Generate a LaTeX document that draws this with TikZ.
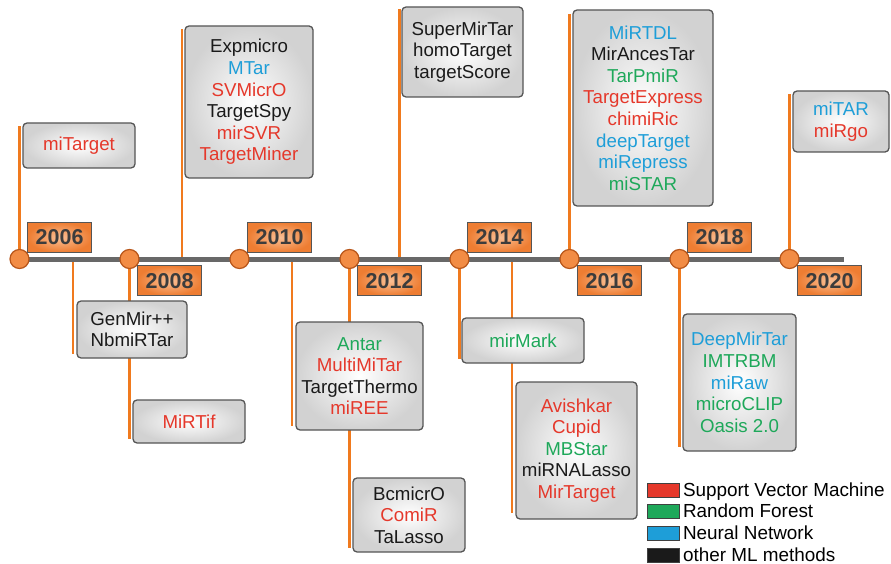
\documentclass[tikz,border=0pt]{standalone}
\usepackage{fontspec}
\setmainfont{Liberation Sans}
\usepackage{tikz}
\usetikzlibrary{positioning, calc, backgrounds}

\definecolor{svmred}{HTML}{E5382B}
\definecolor{rfgreen}{HTML}{1EA85A}
\definecolor{nnblue}{HTML}{1E9ED8}
\definecolor{otherblack}{HTML}{1A1A1A}
\definecolor{axisgray}{HTML}{686868}
\definecolor{lineorange}{HTML}{F07A1E}
\definecolor{dotorange}{HTML}{F28C45}
\definecolor{dotedge}{HTML}{B8561A}
\definecolor{yearlight}{HTML}{FAC096}
\definecolor{yeardark}{HTML}{EE7D32}
\definecolor{yeartext}{HTML}{3C3C3C}
\definecolor{boxedge}{HTML}{555555}
\definecolor{boxgray}{HTML}{D2D2D2}

\newcommand{\mlsvm}[1]{\textcolor{svmred}{#1}}
\newcommand{\mlrf}[1]{\textcolor{rfgreen}{#1}}
\newcommand{\mlnn}[1]{\textcolor{nnblue}{#1}}
\newcommand{\mlot}[1]{\textcolor{otherblack}{#1}}

\tikzset{
  % --- Zeitachse ---------------------------------------------
  tline/.style={draw=axisgray, line width=5pt},
  dot/.style={circle, draw=dotedge, line width=1.2pt, fill=dotorange,
    minimum size=19pt, inner sep=0pt},
  yearbox/.style={draw=boxedge, line width=1.2pt, inner color=yearlight,
    outer color=yeardark, minimum width=64pt, minimum height=30pt,
    inner sep=0pt, text=yeartext,
    font=\fontsize{21.5}{24}\selectfont\bfseries},
  vline/.style={draw=lineorange, line width=2.5pt},
  % --- Werkzeug-Kaesten --------------------------------------
  tbox/.style={draw=boxedge, line width=1.3pt, rounded corners=4pt,
    inner color=white, outer color=boxgray, align=center, inner sep=0pt,
    font=\fontsize{18.7}{21.6}\selectfont},
  % --- Legende -----------------------------------------------
  legsw/.style={draw=black!75, line width=0.8pt, minimum width=32pt,
    minimum height=14pt, inner sep=0pt},
  legtxt/.style={font=\fontsize{18.9}{21}\selectfont, inner sep=0pt,
    text height=14pt, text depth=2pt}
}

\begin{document}
\begin{tikzpicture}[x=1pt, y=-1pt]
  \useasboundingbox (0,0) rectangle (891,564);

  % --- Jahrespunkte ----------------------------------------------
  \node[dot] (C06) at (19.5,259) {};
  \node[dot] (C08) at (129.5,259) {};
  \node[dot] (C10) at (239.5,259) {};
  \node[dot] (C12) at (349.5,259) {};
  \node[dot] (C14) at (459.5,259) {};
  \node[dot] (C16) at (569.5,259) {};
  \node[dot] (C18) at (679.5,259) {};
  \node[dot] (C20) at (789.5,259) {};

  % --- Jahreszahlen (abwechselnd oben / unten) -------------------
  \node[yearbox, anchor=south west] (L06) at ([xshift=7.5pt, yshift=6pt]C06.center) {2006};
  \node[yearbox, anchor=north west] (L08) at ([xshift=7.5pt, yshift=-6pt]C08.center) {2008};
  \node[yearbox, anchor=south west] (L10) at ([xshift=7.5pt, yshift=6pt]C10.center) {2010};
  \node[yearbox, anchor=north west] (L12) at ([xshift=7.5pt, yshift=-6pt]C12.center) {2012};
  \node[yearbox, anchor=south west] (L14) at ([xshift=7.5pt, yshift=6pt]C14.center) {2014};
  \node[yearbox, anchor=north west] (L16) at ([xshift=7.5pt, yshift=-6pt]C16.center) {2016};
  \node[yearbox, anchor=south west] (L18) at ([xshift=7.5pt, yshift=6pt]C18.center) {2018};
  \node[yearbox, anchor=north west] (L20) at ([xshift=7.5pt, yshift=-6pt]C20.center) {2020};

  % --- Abzweigpunkte zwischen den Jahren --------------------------
  \coordinate (Y07) at (73,259);
  \coordinate (Y09) at (182,259);
  \coordinate (Y11) at (292,259);
  \coordinate (Y13) at (399.5,259);
  \coordinate (Y15) at (512,259);
  \coordinate (AXEND) at (844,259);

  % --- Kaesten oben ------------------------------------------------
  \node[tbox, minimum width=112pt, minimum height=45pt] (MITARGET) at (79,145.5)
    {\mlsvm{miTarget}};
  \node[tbox, minimum width=128pt, minimum height=152pt] (EXPMICRO) at (249,102)
    {\mlot{Expmicro}\\\mlnn{MTar}\\\mlsvm{SVMicrO}\\\mlot{TargetSpy}\\\mlsvm{mirSVR}\\\mlsvm{TargetMiner}};
  \node[tbox, minimum width=121pt, minimum height=90pt] (SUPERMIR) at (462.5,52)
    {\mlot{SuperMirTar}\\\mlot{homoTarget}\\\mlot{targetScore}};
  \node[tbox, minimum width=140pt, minimum height=196pt] (MIRTDL) at (643,108)
    {\mlnn{MiRTDL}\\\mlot{MirAncesTar}\\\mlrf{TarPmiR}\\\mlsvm{TargetExpress}\\\mlsvm{chimiRic}\\\mlnn{deepTarget}\\\mlnn{miRepress}\\\mlrf{miSTAR}};
  \node[tbox, minimum width=96pt, minimum height=61pt] (MITAR) at (841,121.5)
    {\mlnn{miTAR}\\\mlsvm{miRgo}};

  % --- Kaesten unten -----------------------------------------------
  \node[tbox, minimum width=110pt, minimum height=57pt] (GENMIR) at (132,329.5)
    {\mlot{GenMir++}\\\mlot{NbmiRTar}};
  \node[tbox, minimum width=112pt, minimum height=43pt] (MIRTIF) at (189,421.5)
    {\mlsvm{MiRTif}};
  \node[tbox, minimum width=127pt, minimum height=108pt] (ANTAR) at (359.5,376)
    {\mlrf{Antar}\\\mlsvm{MultiMiTar}\\\mlot{TargetThermo}\\\mlsvm{miREE}};
  \node[tbox, minimum width=112pt, minimum height=74pt] (BCMICRO) at (409,515)
    {\mlot{BcmicrO}\\\mlsvm{ComiR}\\\mlot{TaLasso}};
  \node[tbox, minimum width=122pt, minimum height=45pt] (MIRMARK) at (523,340.5)
    {\mlrf{mirMark}};
  \node[tbox, minimum width=121pt, minimum height=137pt] (AVISHKAR) at (576.5,450.5)
    {\mlsvm{Avishkar}\\\mlsvm{Cupid}\\\mlrf{MBStar}\\\mlot{miRNALasso}\\\mlsvm{MirTarget}};
  \node[tbox, minimum width=113pt, minimum height=137pt] (DEEPMIR) at (739.5,382.5)
    {\mlnn{DeepMirTar}\\\mlrf{IMTRBM}\\\mlnn{miRaw}\\\mlrf{microCLIP}\\\mlrf{Oasis 2.0}};

  % --- Legende -------------------------------------------------------
  \node[legsw, fill=svmred, anchor=west] (SW1) at (647,490) {};
  \node[legsw, fill=rfgreen, below=7pt of SW1] (SW2) {};
  \node[legsw, fill=nnblue, below=7pt of SW2] (SW3) {};
  \node[legsw, fill=otherblack, below=7pt of SW3] (SW4) {};
  \node[legtxt, right=3pt of SW1] (LT1) {Support Vector Machine};
  \node[legtxt, right=3pt of SW2] (LT2) {Random Forest};
  \node[legtxt, right=3pt of SW3] (LT3) {Neural Network};
  \node[legtxt, right=3pt of SW4] (LT4) {other ML methods};

  % --- Staebe und Achse (hinten) ---------------------------------------
  \begin{scope}[on background layer]
    \draw[vline] (C06.center) -- ($(C06 |- MITARGET.north)+(0,4)$);
    \draw[vline] (Y07) -- ($(Y07 |- GENMIR.south)+(0,-5)$);
    \draw[vline] (C08.center) -- ($(C08 |- MIRTIF.south)+(0,-5)$);
    \draw[vline] (Y09) -- ($(Y09 |- EXPMICRO.north)+(0,4)$);
    \draw[vline] (Y11) -- ($(Y11 |- ANTAR.south)+(0,-5)$);
    \draw[vline] (C12.center) -- ($(C12 |- BCMICRO.south)+(0,-5)$);
    \draw[vline] (Y13) -- ($(Y13 |- SUPERMIR.north)+(0,3)$);
    \draw[vline] (C14.center) -- ($(C14 |- MIRMARK.south)+(0,-5)$);
    \draw[vline] (Y15) -- ($(Y15 |- AVISHKAR.south)+(0,-7)$);
    \draw[vline] (C16.center) -- ($(C16 |- MIRTDL.north)+(0,5)$);
    \draw[vline] (C18.center) -- ($(C18 |- DEEPMIR.south)+(0,-5)$);
    \draw[vline] (C20.center) -- ($(C20 |- MITAR.north)+(0,4)$);
    \draw[tline] (C06.center) -- (AXEND);
  \end{scope}

\end{tikzpicture}
\end{document}
